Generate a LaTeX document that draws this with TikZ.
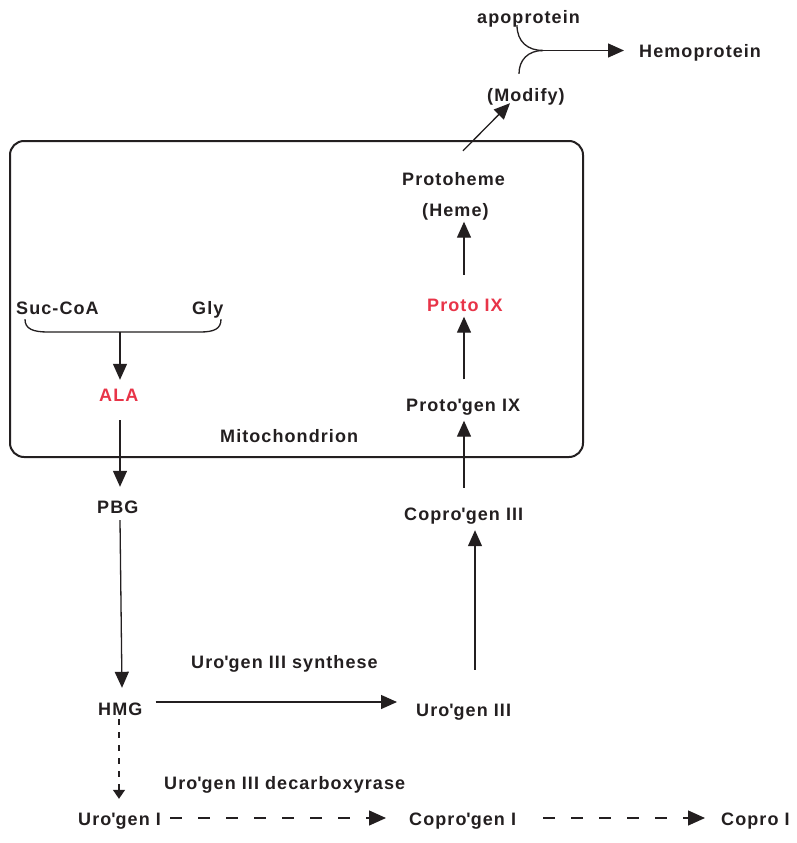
\documentclass[tikz,border=0pt]{standalone}
\usepackage{fontspec}
\setmainfont{Liberation Sans}[LetterSpace=6]
\usetikzlibrary{arrows.meta,calc}
\definecolor{ink}{RGB}{35,31,32}
\definecolor{hred}{RGB}{232,52,72}
\newcommand{\q}{\textquotesingle}
\tikzset{
  lbl/.style={inner sep=0pt,text height=13pt,text depth=4pt,anchor=base west,text=ink,
    font=\fontsize{18}{21}\selectfont\bfseries},
  redlbl/.style={lbl,text=hred},
  arr/.style={draw=ink,line width=1.3pt,-{Triangle[length=16pt,width=14pt]}},
  darr/.style={draw=ink,line width=1.3pt,dash pattern=on 12pt off 16pt,-{Triangle[length=17pt,width=15pt]}},
  vdarr/.style={draw=ink,line width=1.3pt,dash pattern=on 6pt off 7pt,-{Triangle[length=9pt,width=12pt]}},
  curve/.style={draw=ink,line width=1.3pt}
}
\begin{document}
\begin{tikzpicture}[x=1pt,y=-1pt]
\useasboundingbox[fill=white] (0,0) rectangle (796,843);
% mitochondrion box
\draw[draw=ink,line width=2pt,rounded corners=14pt] (10,141) rectangle (583,457);
% labels
\node[lbl] (apo) at (477,24) {apoprotein};
\node[lbl] (hemo) at (639,58) {Hemoprotein};
\node[lbl] (modify) at (487,101) {(Modify)};
\node[lbl] (protoheme) at (402,185) {Protoheme};
\node[lbl] (heme) at (422,216.5) {(Heme)};
\node[redlbl] (protoix) at (427,311.5) {Proto IX};
\node[lbl] (protogen) at (406,411.5) {Proto\q gen IX};
\node[lbl] (mito) at (220,442.5) {Mitochondrion};
\node[lbl] (suc) at (16,314) {Suc-CoA};
\node[lbl] (gly) at (192,314) {Gly};
\node[redlbl] (ala) at (99,401.5) {ALA};
\node[lbl] (pbg) at (97,513.5) {PBG};
\node[lbl] (hmg) at (98,715) {HMG};
\node[lbl] (coprogen3) at (404,520.5) {Copro\q gen III};
\node[lbl] (urogen3) at (416,716) {Uro\q gen III};
\node[lbl] (synth) at (191,668.5) {Uro\q gen III synthese};
\node[lbl] (decarb) at (164,789) {Uro\q gen III decarboxyrase};
\node[lbl] (urogen1) at (78,825.5) {Uro\q gen I};
\node[lbl] (coprogen1) at (409,825.5) {Copro\q gen I};
\node[lbl] (copro1) at (721,825.5) {Copro I};
% top junction
\coordinate (j) at (543,50.5);
\draw[curve] ($(apo.south west)+(40,-3)$) .. controls (517,42) and (528,50.5) .. (j);
\draw[curve] ($(modify.north west)+(32,-14)$) .. controls (519,60) and (528,50.5) .. (j);
\draw[arr,shorten >=15pt] (j) -- (hemo.west |- j);
% right column
\draw[arr] ($(protoheme.north west)+(61,-21)$) -- ($(modify.south west)+(23,-2)$);
\draw[arr,shorten >=1pt] ($(protoix.north west)+(37,-23.5)$) -- ($(protoix.north west |- heme.south)+(37,0)$);
\draw[arr,shorten >=1pt] ($(protogen.north west)+(58,-19)$) -- ($(protogen.north west |- protoix.south)+(58,0)$);
\draw[arr,shorten >=5pt] ($(coprogen3.north west)+(60,-19.5)$) -- ($(coprogen3.north west |- protogen.south)+(60,0)$);
\draw[arr,shorten >=5.5pt] ($(urogen3.north west)+(59,-33)$) -- ($(urogen3.north west |- coprogen3.south)+(59,0)$);
% brace
\coordinate (bm) at (120,332);
\draw[curve] ($(suc.south west)+(9,1)$) .. controls (25,329) and (33,332) .. (48,332) -- (200,332) .. controls (214,332) and (221,329) .. ($(gly.south west)+(29,1)$);
\draw[arr,shorten >=8.5pt] (bm) -- (bm |- ala.north);
% left column
\draw[arr,shorten >=13.5pt] ($(ala.south west)+(21,14.5)$) -- ($(ala.south west |- pbg.north)+(21,0)$);
\draw[arr] ($(pbg.south west)+(23,2.5)$) -- ($(hmg.north west)+(24,-14)$);
\draw[arr] ($(hmg.base east)+(13,-13)$) -- ($(urogen3.base west)+(-19,-14)$);
% dashed branch
\draw[vdarr,shorten >=13.5pt] ($(hmg.south west)+(21,0)$) -- ($(hmg.south west |- urogen1.north)+(21,0)$);
\draw[darr] ($(urogen1.base east)+(9,-7.5)$) -- ($(coprogen1.base west)+(-23,-7.5)$);
\draw[darr] ($(coprogen1.base east)+(27,-7.5)$) -- ($(copro1.base west)+(-16,-7.5)$);
\end{tikzpicture}
\end{document}
